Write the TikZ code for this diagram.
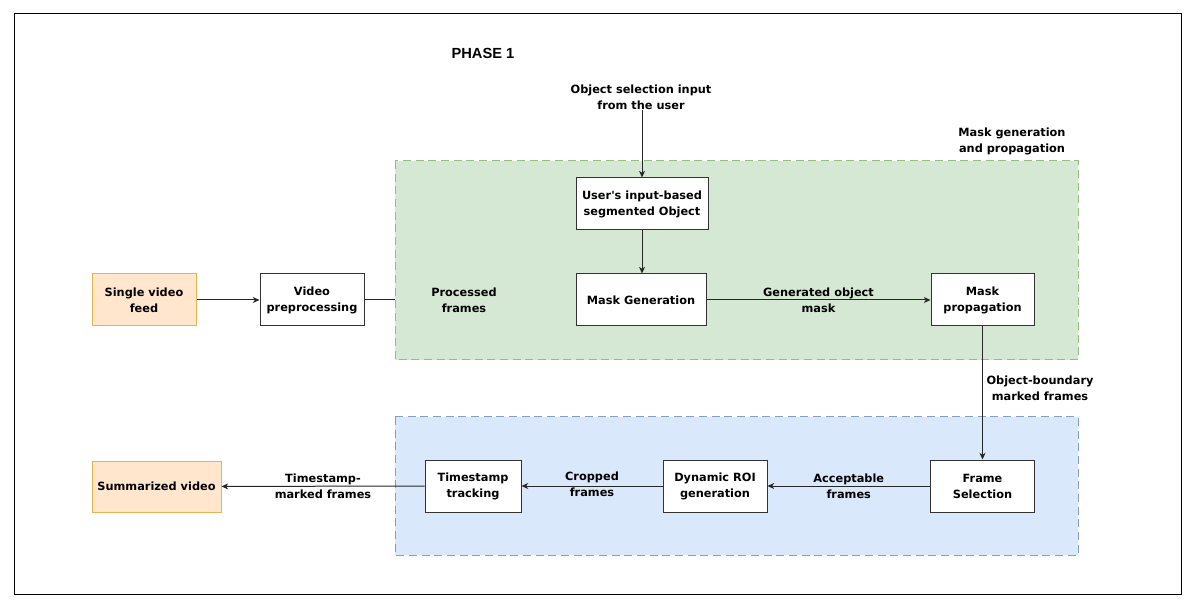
\documentclass[tikz,border=0pt]{standalone}
\usepackage{fontspec}
\setmainfont{DejaVu Sans}[Ligatures=TeXOff]
\newfontfamily\phasefont{Liberation Sans}
\usetikzlibrary{arrows.meta}
\definecolor{gfill}{HTML}{D5E8D4}
\definecolor{gdraw}{HTML}{82B366}
\definecolor{bfill}{HTML}{DAE8FC}
\definecolor{bdraw}{HTML}{6C8EBF}
\definecolor{ofill}{HTML}{FFE6CC}
\definecolor{odraw}{HTML}{E8B450}
\tikzset{
  every node/.style={font=\fontsize{8.5pt}{12pt}\selectfont\bfseries, align=center, inner sep=0pt},
  box/.style={draw=black!80, fill=white, line width=0.75pt, minimum height=39pt},
  obox/.style={draw=odraw, fill=ofill, line width=0.75pt, minimum height=39pt},
  region/.style={dashed, dash pattern=on 6pt off 3.5pt, line width=0.75pt, inner sep=0pt},
  conn/.style={draw=black!85, line width=0.75pt},
  arr/.style={conn, -{Stealth[length=5pt,width=4.5pt,inset=1.5pt]}}
}
\begin{document}
\begin{tikzpicture}[x=0.75pt,y=-0.75pt]
\useasboundingbox (0,0) rectangle (1195,605);
\draw[line width=0.75pt] (14,14) rectangle (1181.5,594);

% regions
\path[region, fill=gfill, draw=gdraw!85] (395,161) rectangle (1078,360);
\path[region, fill=bfill, draw=bdraw!85] (395,417) rectangle (1078,555);
\coordinate (gwest) at (395,300);

\node[font=\phasefont\fontsize{11pt}{13pt}\selectfont\bfseries] (phase) at (483,53) {PHASE 1};
\node (mgp) at (1012,141) {Mask generation\\and propagation};

% nodes
\node[obox, minimum width=78pt] (svf) at (144,300) {Single video\\feed};
\node[box, minimum width=78pt] (vp) at (312,300) {Video\\preprocessing};
\node (pf) at (464,300) {Processed\\frames};
\node (osi) at (641,97) {Object selection input\\from the user};
\node[box, minimum width=99pt] (user) at (642,204) {User's input-based\\segmented Object};
\node[box, minimum width=97.5pt] (mg) at (641,300) {Mask Generation};
\node[box, minimum width=77.25pt] (mp) at (982.5,300) {Mask\\propagation};
\node[box, minimum width=78pt] (fs) at (982.5,486) {Frame\\Selection};
\node[box, minimum width=78pt] (roi) at (715,486) {Dynamic ROI\\generation};
\node[box, minimum width=72pt] (tt) at (473,486) {Timestamp\\tracking};
\node[obox, minimum width=96.75pt, minimum height=38.25pt] (sv) at (156.5,486.5) {Summarized video};

% connectors
\draw[arr] (svf) -- (vp);
\draw[conn] (vp.east) -- (gwest);
\draw[arr] (osi.south -| user.north) -- (user.north);
\draw[arr] (user) -- (user.south |- mg.north);
\draw[arr] (mg) -- node (gom) {Generated object\\mask} (mp);
\draw[arr] (mp) -- (fs);
\node (obm) at (1040,388) {Object-boundary\\marked frames};
\draw[arr] (fs) -- node (af) {Acceptable\\frames} (roi);
\draw[arr] (roi) -- node[yshift=1.5pt] (cf) {Cropped\\frames} (tt);
\draw[arr] (tt) -- node (tmf) {Timestamp-\\marked frames} (sv);
\end{tikzpicture}
\end{document}
